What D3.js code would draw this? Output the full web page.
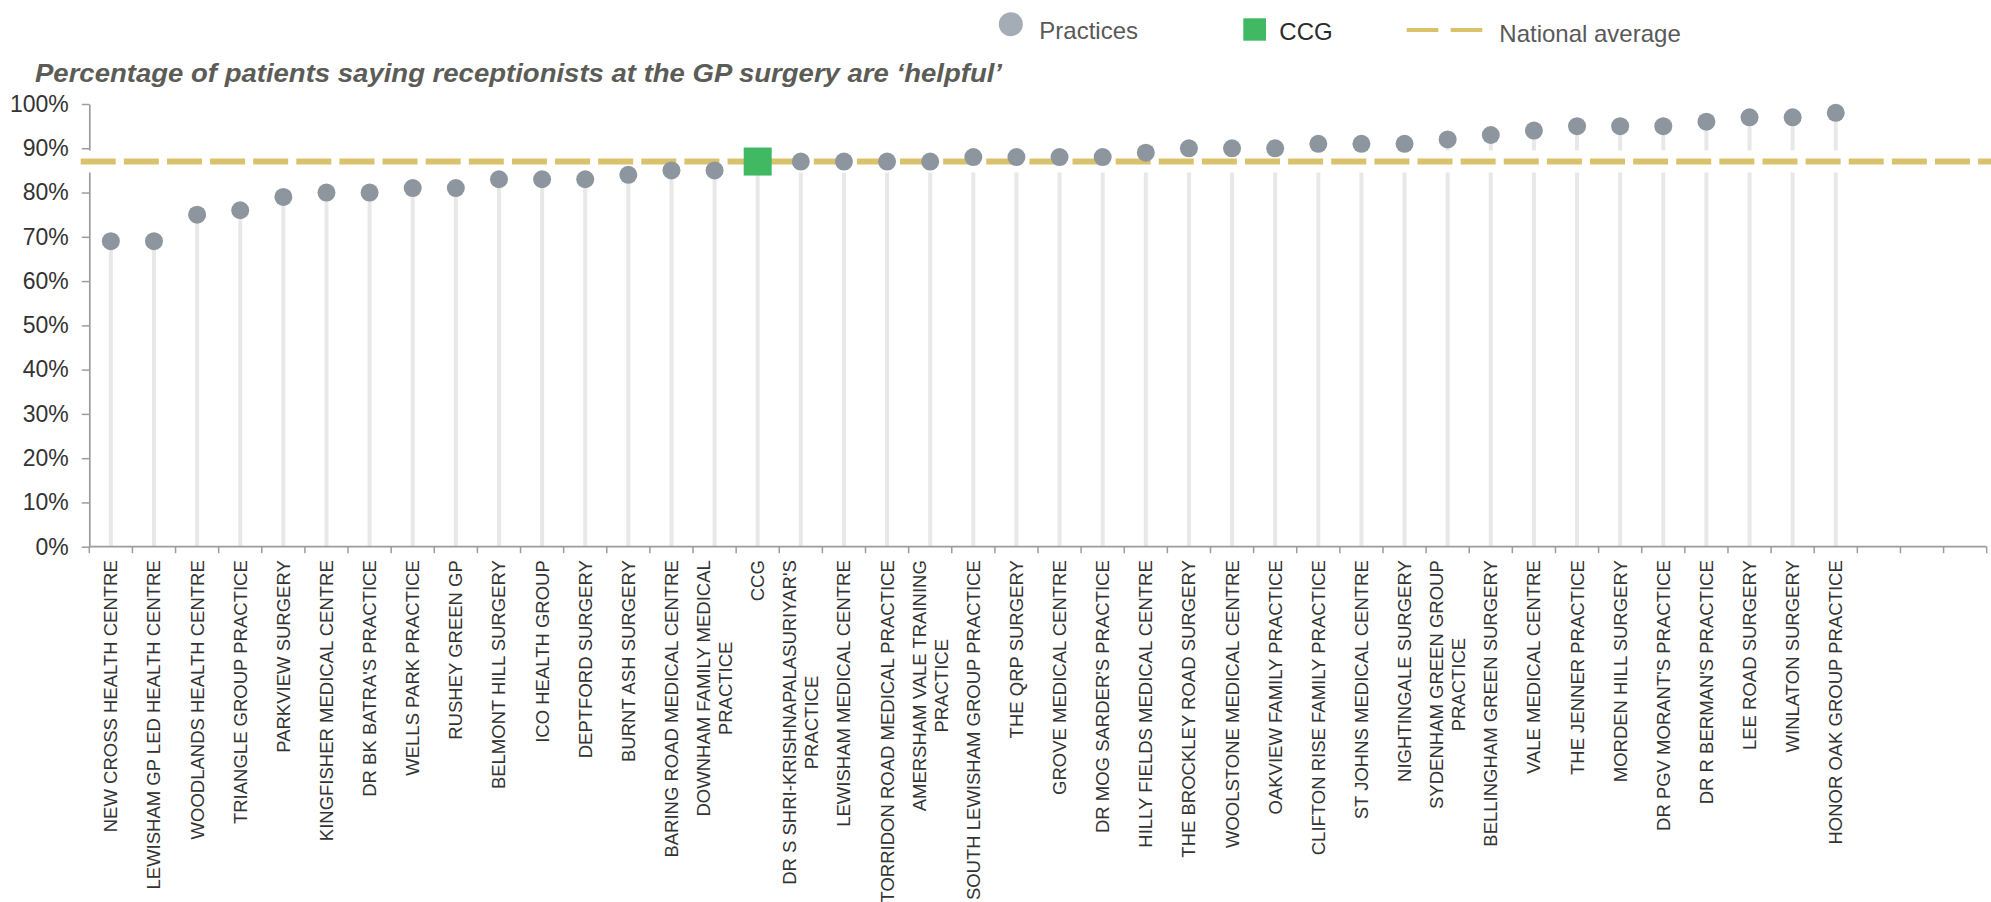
<!DOCTYPE html>
<html>
<head>
<meta charset="utf-8">
<script src="https://cdn.jsdelivr.net/npm/d3@7"></script>
<style>
  html, body { margin: 0; padding: 0; background: #ffffff; }
  svg { display: block; font-family: "Liberation Sans", Arial, Helvetica, sans-serif; }
</style>
</head>
<body>
<svg id="chart" width="1991" height="902"></svg>
<script>
// ---------------- data ----------------
const titleText = "Percentage of patients saying receptionists at the GP surgery are \u2018helpful\u2019";

const categories = [
  "NEW CROSS HEALTH CENTRE",
  "LEWISHAM GP LED HEALTH CENTRE",
  "WOODLANDS HEALTH CENTRE",
  "TRIANGLE GROUP PRACTICE",
  "PARKVIEW SURGERY",
  "KINGFISHER MEDICAL CENTRE",
  "DR BK BATRA'S PRACTICE",
  "WELLS PARK PRACTICE",
  "RUSHEY GREEN GP",
  "BELMONT HILL SURGERY",
  "ICO HEALTH GROUP",
  "DEPTFORD SURGERY",
  "BURNT ASH SURGERY",
  "BARING ROAD MEDICAL CENTRE",
  "DOWNHAM FAMILY MEDICAL\nPRACTICE",
  "CCG",
  "DR S SHRI-KRISHNAPALASURIYAR'S\nPRACTICE",
  "LEWISHAM MEDICAL CENTRE",
  "TORRIDON ROAD MEDICAL PRACTICE",
  "AMERSHAM VALE TRAINING\nPRACTICE",
  "SOUTH LEWISHAM GROUP PRACTICE",
  "THE QRP SURGERY",
  "GROVE MEDICAL CENTRE",
  "DR MOG SARDER'S PRACTICE",
  "HILLY FIELDS MEDICAL CENTRE",
  "THE BROCKLEY ROAD SURGERY",
  "WOOLSTONE MEDICAL CENTRE",
  "OAKVIEW FAMILY PRACTICE",
  "CLIFTON RISE FAMILY PRACTICE",
  "ST JOHNS MEDICAL CENTRE",
  "NIGHTINGALE SURGERY",
  "SYDENHAM GREEN GROUP\nPRACTICE",
  "BELLINGHAM GREEN SURGERY",
  "VALE MEDICAL CENTRE",
  "THE JENNER PRACTICE",
  "MORDEN HILL SURGERY",
  "DR PGV MORANT'S PRACTICE",
  "DR R BERMAN'S PRACTICE",
  "LEE ROAD SURGERY",
  "WINLATON SURGERY",
  "HONOR OAK GROUP PRACTICE"
];

const values = [
  69, 69, 75, 76, 79, 80, 80, 81, 81, 83,
  83, 83, 84, 85, 85, 87, 87, 87, 87, 87,
  88, 88, 88, 88, 89, 90, 90, 90, 91, 91,
  91, 92, 93, 94, 95, 95, 95, 96, 97, 97,
  98
];

const ccgName = "CCG";
const nationalAverage = 87;
const emptySlots = 3;            // empty categories at the right end of the axis
const yTicks = [0, 10, 20, 30, 40, 50, 60, 70, 80, 90, 100];
const legendLabels = ["Practices", "CCG", "National average"];

// ---------------- layout ----------------
const svg = d3.select("#chart");
const plotLeft = 89.3, plotRight = 1986.7, plotTop = 104, plotBottom = 546.7;

const slots = d3.range(categories.length + emptySlots);
const x = d3.scaleBand().domain(slots).range([plotLeft, plotRight]).paddingInner(0).paddingOuter(0);
const y = d3.scaleLinear().domain([0, 100]).range([plotBottom, plotTop]);
const cx = i => x(i) + x.bandwidth() / 2;

const dotColor = "#8d969f";
const legendDotColor = "#a4acb6";
const ccgColor = "#41b963";
const avgColor = "#dac26c";
const stemColor = "#e8e8e8";
const axisColor = "#9c9c9c";

svg.append("rect").attr("width", 1991).attr("height", 902).attr("fill", "#fff");

// title
svg.append("text")
  .attr("x", 35).attr("y", 81.7)
  .attr("font-size", 25)
  .attr("font-weight", "bold")
  .attr("font-style", "italic")
  .attr("fill", "#5c5c57")
  .attr("textLength", 967)
  .attr("lengthAdjust", "spacingAndGlyphs")
  .text(titleText);

// stems
svg.append("g").selectAll("line")
  .data(values)
  .join("line")
  .attr("x1", (d, i) => cx(i)).attr("x2", (d, i) => cx(i))
  .attr("y1", d => y(d)).attr("y2", y(0))
  .attr("stroke", stemColor).attr("stroke-width", 4);

// y axis
const yAxis = svg.append("g")
  .attr("transform", `translate(${plotLeft},0)`)
  .call(d3.axisLeft(y).tickValues(yTicks).tickSize(7.5).tickPadding(13).tickSizeOuter(0)
        .tickFormat(d => d + "%"));
yAxis.select(".domain").attr("stroke", axisColor).attr("stroke-width", 1.7);
yAxis.selectAll(".tick line").attr("stroke", axisColor).attr("stroke-width", 1.5);
yAxis.selectAll(".tick text")
  .attr("font-size", 23).attr("fill", "#333")
  .attr("font-family", "'Liberation Sans', Arial, sans-serif");

// x axis (ticks at category boundaries)
const xAxis = svg.append("g");
xAxis.append("line")
  .attr("x1", x.range()[0]).attr("x2", x.range()[1])
  .attr("y1", y(0)).attr("y2", y(0))
  .attr("stroke", axisColor).attr("stroke-width", 1.8);
const boundaries = slots.map(i => x(i)).concat([x.range()[1]]);
xAxis.selectAll("line.tk")
  .data(boundaries)
  .join("line").attr("class", "tk")
  .attr("x1", d => d).attr("x2", d => d)
  .attr("y1", y(0)).attr("y2", y(0) + 6.5)
  .attr("stroke", axisColor).attr("stroke-width", 1.5);

// category labels (rotated, top-anchored, multi-line centered)
const labelFont = 18.5, lineH = 21.7;
const labelG = svg.append("g").attr("fill", "#333").attr("font-size", labelFont);
categories.forEach((name, i) => {
  const lines = name.split("\n");
  const g = labelG.append("g")
    .attr("transform", `translate(${cx(i)},${y(0) + 13.5}) rotate(-90)`);
  const texts = lines.map((ln, j) => g.append("text")
    .attr("text-anchor", "middle")
    .attr("dominant-baseline", "central")
    .attr("y", (j - (lines.length - 1) / 2) * lineH)
    .text(ln));
  const maxLen = d3.max(texts, t => t.node().getComputedTextLength());
  texts.forEach(t => t.attr("x", -maxLen / 2));
});

// national average: white band + dashed line
const avgY = y(nationalAverage);
svg.append("line")
  .attr("x1", 80.7).attr("x2", 1991)
  .attr("y1", avgY).attr("y2", avgY)
  .attr("stroke", "#fff").attr("stroke-width", 22);
svg.append("line")
  .attr("x1", 80.7).attr("x2", 1991)
  .attr("y1", avgY).attr("y2", avgY)
  .attr("stroke", avgColor).attr("stroke-width", 6)
  .attr("stroke-dasharray", `35 ${x.bandwidth() - 35}`);

// practice dots
svg.append("g").selectAll("circle")
  .data(values.map((v, i) => ({ v, i, name: categories[i] })).filter(d => d.name !== ccgName))
  .join("circle")
  .attr("cx", d => cx(d.i)).attr("cy", d => y(d.v))
  .attr("r", 9).attr("fill", dotColor);

// CCG square
const ccgIdx = categories.indexOf(ccgName);
const sq = 28;
svg.append("rect")
  .attr("x", cx(ccgIdx) - sq / 2).attr("y", y(values[ccgIdx]) - sq / 2)
  .attr("width", sq).attr("height", sq)
  .attr("fill", ccgColor);

// legend
const lg = svg.append("g").attr("font-size", 24);
lg.append("circle").attr("cx", 1010.8).attr("cy", 24.2).attr("r", 12).attr("fill", legendDotColor);
lg.append("text").attr("x", 1039.3).attr("y", 39.3).attr("fill", "#595959").text(legendLabels[0]);
lg.append("rect").attr("x", 1243.3).attr("y", 18.3).attr("width", 22.7).attr("height", 22.4).attr("fill", ccgColor);
lg.append("text").attr("x", 1279.3).attr("y", 39.5).attr("fill", "#2b2b2b").text(legendLabels[1]);
lg.append("line").attr("x1", 1406.7).attr("x2", 1482.7).attr("y1", 30).attr("y2", 30)
  .attr("stroke", avgColor).attr("stroke-width", 4).attr("stroke-dasharray", "31.6 12.4");
lg.append("text").attr("x", 1499.3).attr("y", 42.3).attr("fill", "#595959").text(legendLabels[2]);
</script>
</body>
</html>
